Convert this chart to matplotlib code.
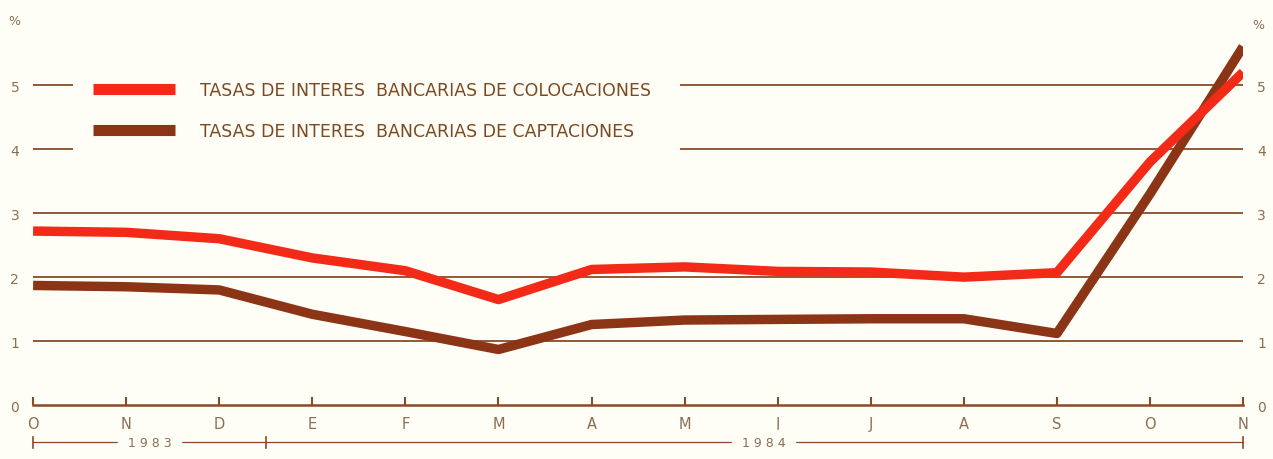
import numpy as np
import matplotlib.pyplot as plt

meses = ['O', 'N', 'D', 'E', 'F', 'M', 'A', 'M', 'J', 'J', 'A', 'S', 'O', 'N']
colocaciones = [2.72, 2.70, 2.60, 2.30, 2.10, 1.65, 2.12, 2.16, 2.09, 2.08, 2.00, 2.07, 3.80, 5.20]
captaciones = [1.87, 1.85, 1.80, 1.42, 1.15, 0.87, 1.26, 1.33, 1.34, 1.35, 1.35, 1.12, 3.30, 5.60]
niveles = [0, 1, 2, 3, 4, 5]

rojo = '#f42a18'
cafe = '#8c3516'
linea = '#8a4a26'
texto = '#8a6e56'
fondo = '#fffef6'

fig = plt.figure(figsize=(12.73, 4.6), dpi=100, facecolor=fondo)
ax = fig.add_axes([0.026, 0.117, 0.9505, 0.835])
ax.set_facecolor(fondo)

x = np.arange(len(meses))

# lineas horizontales (4 y 5 cortadas por la leyenda)
for v in [1, 2, 3]:
    ax.hlines(v, 0, x[-1], color=linea, linewidth=1.3, zorder=1)
for v in [4, 5]:
    ax.hlines(v, 0, 0.43, color=linea, linewidth=1.3, zorder=1)
    ax.hlines(v, 6.95, x[-1], color=linea, linewidth=1.3, zorder=1)

ax.plot(x, colocaciones, color=rojo, linewidth=6.8, solid_capstyle='butt',
        solid_joinstyle='round', zorder=3,
        label='TASAS DE INTERES  BANCARIAS DE COLOCACIONES')
ax.plot(x, captaciones, color=cafe, linewidth=6.8, solid_capstyle='butt',
        solid_joinstyle='round', zorder=2,
        label='TASAS DE INTERES  BANCARIAS DE CAPTACIONES')

ax.set_xlim(0, x[-1])
ax.set_ylim(0, 6)

for s in ['top', 'left', 'right']:
    ax.spines[s].set_visible(False)
ax.spines['bottom'].set_color(linea)
ax.spines['bottom'].set_linewidth(1.8)

ax.set_xticks(x)
ax.set_xticklabels(meses)
ax.tick_params(axis='x', direction='in', length=6, width=1.5, color=linea,
               labelcolor=texto, labelsize=10.5, pad=8)
ax.set_yticks(niveles)
ax.set_yticklabels([str(n) for n in niveles])
ax.tick_params(axis='y', length=0, labelcolor=texto, labelsize=10, pad=10,
               labelright=True, labelleft=True)

ax.text(-0.27, 5.9, '%', color=texto, fontsize=9, ha='left', va='bottom')
ax.text(13.1, 5.85, '%', color=texto, fontsize=9, ha='left', va='bottom')

leg = ax.legend(loc='upper left', bbox_to_anchor=(0.0496, 0.845), frameon=False,
                borderpad=0, borderaxespad=0,
                handlelength=4.7, handletextpad=1.45, labelspacing=1.36,
                fontsize=12.5)
for t in leg.get_texts():
    t.set_color('#7a4a22')
for h in leg.get_lines():
    h.set_linewidth(8)

# años bajo el eje
ytr = ax.get_xaxis_transform()
ax.plot([0, 2.5], [-0.097, -0.097], color=linea, linewidth=0.9, transform=ytr, clip_on=False)
ax.plot([2.5, 13], [-0.097, -0.097], color=linea, linewidth=0.9, transform=ytr, clip_on=False)
for xt in [0, 2.5, 13]:
    ax.plot([xt, xt], [-0.112, -0.082], color=linea, linewidth=1.2, transform=ytr, clip_on=False)
ax.text(1.25, -0.097, ' 1 9 8 3 ', color=texto, fontsize=9, ha='center', va='center',
        transform=ytr, backgroundcolor=fondo)
ax.text(7.85, -0.097, ' 1 9 8 4 ', color=texto, fontsize=9, ha='center', va='center',
        transform=ytr, backgroundcolor=fondo)

fig.savefig('out.png', dpi=100, facecolor=fondo)
